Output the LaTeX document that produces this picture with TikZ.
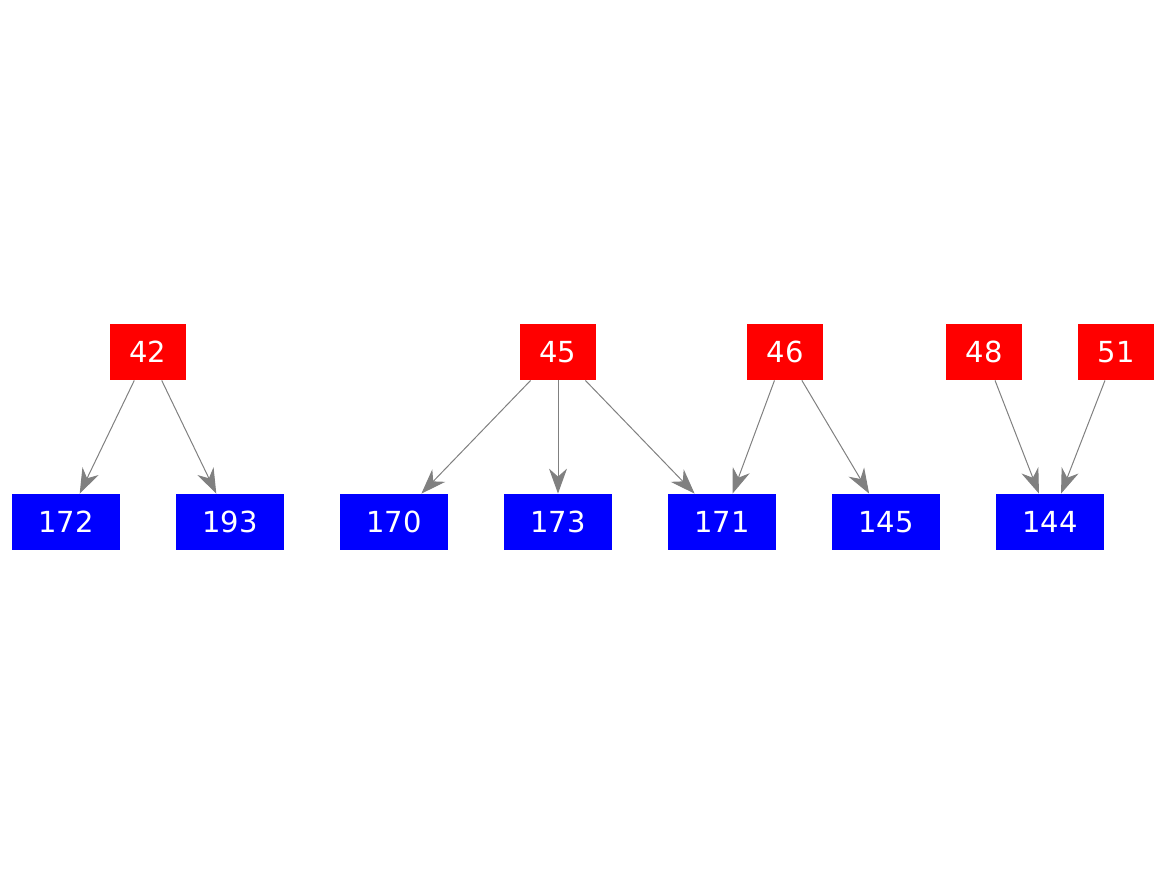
\documentclass[tikz,border=0pt]{standalone}
\usepackage{fontspec}
\setmainfont{DejaVu Sans}
\usetikzlibrary{arrows.meta}

\begin{document}
\begin{tikzpicture}[x=0.5pt, y=-0.5pt,
    parentbox/.style = {fill=red, text=white, inner sep=0pt, minimum width=38pt, minimum height=28pt, font=\fontsize{14.5}{16}\selectfont},
    childbox/.style = {fill=blue, text=white, inner sep=0pt, minimum width=54pt, minimum height=28pt, font=\fontsize{14.5}{16}\selectfont},
    link/.style = {draw=gray, line width=0.5pt, -{Stealth[length=12.5pt, width=9pt, inset=4pt]}}]
    % Cornice
    \useasboundingbox (0,0) rectangle (1167,875);
    % Nodi rossi
    \node[parentbox] (n42) at (148,352) {42};
    \node[parentbox] (n45) at (558,352) {45};
    \node[parentbox] (n46) at (785,352) {46};
    \node[parentbox] (n48) at (984,352) {48};
    \node[parentbox] (n51) at (1116,352) {51};
    % Nodi blu
    \node[childbox] (n172) at (66,522) {172};
    \node[childbox] (n193) at (230,522) {193};
    \node[childbox] (n170) at (394,522) {170};
    \node[childbox] (n173) at (558,522) {173};
    \node[childbox] (n171) at (722,522) {171};
    \node[childbox] (n145) at (886,522) {145};
    \node[childbox] (n144) at (1050,522) {144};
    % Frecce
    \draw[link] (n42) -- (n172);
    \draw[link] (n42) -- (n193);
    \draw[link] (n45) -- (n170);
    \draw[link] (n45) -- (n173);
    \draw[link] (n45) -- (n171);
    \draw[link] (n46) -- (n171);
    \draw[link] (n46) -- (n145);
    \draw[link] (n48) -- (n144);
    \draw[link] (n51) -- (n144);
\end{tikzpicture}
\end{document}
